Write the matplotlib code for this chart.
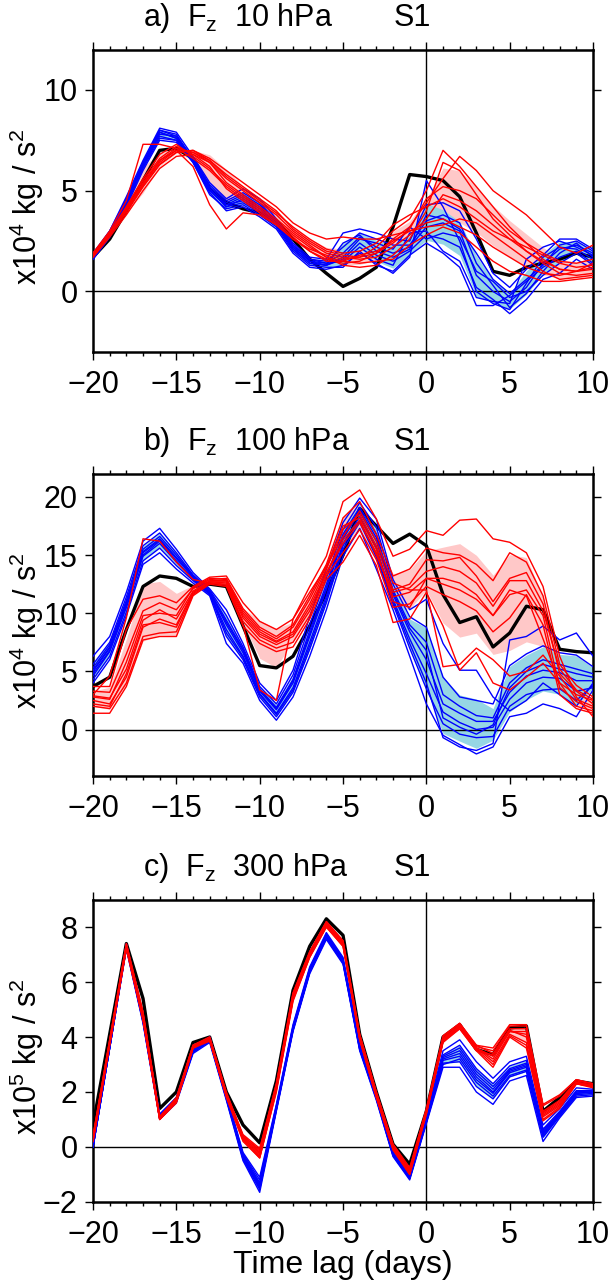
import numpy as np
import matplotlib
matplotlib.use("Agg")
import matplotlib.pyplot as plt
from matplotlib.ticker import MultipleLocator

plt.rcParams["font.family"] = ["Liberation Sans", "DejaVu Sans"]
plt.rcParams["mathtext.fontset"] = "custom"
plt.rcParams["mathtext.rm"] = "Liberation Sans"
plt.rcParams["mathtext.it"] = "Liberation Sans:italic"
plt.rcParams["mathtext.bf"] = "Liberation Sans:bold"

# time lag in days relative to the event onset
lags = np.arange(-20, 11)

# ---- 10 hPa (x10^4 kg/s^2) ----
fz10_obs = [1.7, 2.6, 4.0, 5.5, 7.0, 7.1, 6.6, 5.1, 4.4, 4.1, 3.9, 3.5, 2.6, 1.6, 0.9, 0.25,
            0.65, 1.2, 3.2, 5.8, 5.7, 5.5, 4.7, 2.9, 1.0, 0.8, 1.2, 1.4, 1.6, 1.9, 1.7]
fz10_red = [
    [1.9, 3.0, 4.5, 7.3, 7.3, 7.1, 6.6, 6.0, 5.2, 4.6, 4.0, 3.4, 2.7, 2.0, 1.6, 1.4, 1.5, 1.9, 2.6, 3.2, 4.4, 5.6, 6.7, 6.0, 5.0, 4.4, 3.8, 3.0, 2.2, 1.9, 2.3],
    [1.8, 2.9, 4.1, 5.3, 6.5, 7.0, 6.2, 4.3, 3.1, 3.9, 3.8, 3.3, 2.6, 2.1, 1.8, 1.6, 1.7, 2.2, 3.0, 3.6, 5.0, 7.0, 6.2, 5.2, 4.2, 3.2, 2.4, 1.6, 1.1, 1.0, 1.2],
    [1.7, 2.7, 3.8, 5.0, 6.1, 6.7, 6.8, 6.4, 5.6, 5.0, 4.4, 3.8, 3.0, 2.4, 1.9, 1.7, 1.6, 1.7, 2.2, 2.8, 3.6, 4.8, 4.5, 4.0, 3.3, 2.6, 2.0, 1.4, 0.9, 0.8, 0.9],
    [1.8, 2.8, 3.9, 5.2, 6.3, 6.9, 7.0, 6.6, 6.0, 5.4, 4.8, 4.2, 3.4, 2.9, 2.6, 2.7, 2.6, 2.6, 2.8, 3.0, 3.2, 3.3, 3.6, 3.4, 2.8, 2.2, 1.6, 1.0, 0.6, 0.7, 0.8],
    [1.8, 2.8, 4.0, 5.3, 6.4, 7.0, 6.9, 6.4, 5.4, 4.8, 4.2, 3.6, 2.9, 2.3, 1.7, 1.3, 1.2, 1.3, 1.8, 2.6, 4.0, 6.4, 6.0, 4.8, 3.6, 2.8, 2.0, 1.5, 1.1, 1.0, 1.1],
    [1.9, 2.9, 4.2, 5.5, 6.6, 7.2, 6.8, 6.2, 5.1, 4.5, 3.9, 3.3, 2.6, 2.0, 1.5, 1.5, 1.8, 2.0, 2.5, 3.0, 3.4, 3.6, 3.2, 2.8, 2.2, 1.7, 1.2, 0.9, 0.8, 1.0, 1.4],
    [1.7, 2.8, 4.1, 5.4, 6.5, 7.1, 6.9, 6.5, 5.7, 5.1, 4.5, 3.9, 3.2, 2.6, 2.1, 1.9, 2.0, 2.4, 3.3, 3.8, 4.2, 4.6, 4.2, 3.6, 3.0, 2.6, 2.2, 1.8, 1.4, 1.2, 1.3],
    [1.8, 2.9, 4.2, 5.6, 6.8, 7.3, 6.7, 6.1, 5.3, 4.7, 4.1, 3.5, 2.8, 2.2, 1.7, 1.5, 1.4, 1.5, 1.6, 2.3, 2.8, 3.2, 2.9, 2.2, 1.5, 1.0, 0.8, 0.5, 0.5, 0.6, 0.7],
    [1.8, 2.9, 4.0, 5.2, 6.3, 6.9, 7.0, 6.5, 5.8, 5.2, 4.6, 4.0, 3.1, 2.5, 2.0, 1.8, 1.7, 1.9, 2.4, 3.1, 4.6, 5.2, 5.0, 4.6, 3.8, 3.0, 2.4, 1.9, 1.5, 1.4, 1.6],
]
fz10_blue = [
    [1.6, 2.7, 4.2, 6.0, 7.5, 7.4, 6.4, 4.8, 4.1, 4.3, 3.8, 3.2, 2.0, 1.3, 1.2, 1.2, 2.0, 1.3, 1.0, 1.8, 2.4, 1.9, 1.2, -0.7, -0.7, -0.2, 0.5, 1.2, 1.7, 2.0, 1.4],
    [1.7, 2.8, 4.4, 6.2, 7.7, 7.5, 6.5, 5.0, 4.3, 4.5, 4.0, 3.3, 2.1, 1.4, 1.3, 1.6, 2.4, 1.8, 1.5, 2.0, 2.8, 2.6, 2.2, 0.2, -0.4, -1.1, -0.4, 0.6, 0.9, 1.6, 1.1],
    [1.8, 2.9, 4.5, 6.3, 7.9, 7.6, 6.5, 5.1, 4.2, 4.6, 4.1, 3.4, 2.2, 1.5, 1.4, 1.9, 2.7, 2.2, 1.9, 2.2, 3.2, 3.4, 3.0, 0.8, 0.0, -0.5, 0.2, 1.4, 2.1, 2.3, 1.9],
    [1.8, 3.0, 4.6, 6.4, 8.0, 7.7, 6.6, 5.2, 4.4, 4.8, 4.3, 3.5, 2.3, 1.6, 1.5, 2.2, 2.9, 2.6, 2.3, 2.3, 3.5, 3.8, 3.4, 1.4, 0.3, -0.8, -0.1, 1.0, 1.9, 2.4, 1.7],
    [1.9, 3.0, 4.7, 6.5, 8.1, 7.9, 6.7, 5.4, 4.6, 5.1, 4.6, 3.6, 2.4, 1.7, 1.6, 2.9, 3.1, 2.9, 2.6, 2.5, 4.3, 4.4, 4.0, 2.6, 0.9, 0.2, 1.1, 1.8, 2.6, 2.6, 2.1],
    [1.7, 2.8, 4.3, 6.1, 7.6, 7.5, 6.4, 4.9, 4.0, 4.2, 3.7, 3.1, 1.9, 1.2, 1.1, 1.3, 1.9, 1.4, 0.9, 1.7, 5.5, 4.2, 2.5, 0.0, -0.6, -0.9, 0.4, 1.7, 2.2, 2.1, 1.6],
    [1.6, 2.7, 4.3, 6.2, 7.8, 7.7, 6.6, 5.3, 4.5, 4.9, 4.4, 3.5, 2.3, 1.6, 1.4, 1.5, 2.2, 1.6, 1.3, 2.9, 3.0, 2.0, 1.5, -0.3, -0.5, -0.6, 1.6, 2.2, 2.5, 2.2, 1.8],
    [1.8, 2.9, 4.5, 6.4, 8.0, 7.8, 6.5, 5.0, 4.2, 4.4, 3.9, 3.3, 2.1, 1.4, 1.3, 1.7, 2.6, 2.4, 2.1, 3.2, 2.6, 2.9, 2.7, 1.0, 0.5, -0.3, 0.0, 0.8, 1.4, 1.9, 1.3],
    [1.7, 2.9, 4.4, 6.3, 7.9, 7.6, 6.6, 5.1, 4.3, 4.7, 4.2, 3.4, 2.2, 1.5, 1.3, 2.4, 2.8, 2.0, 1.7, 2.1, 3.8, 3.6, 3.1, 1.9, 0.6, -0.1, 0.6, 1.3, 2.3, 2.5, 2.0],
]

# ---- 100 hPa (x10^4 kg/s^2) ----
fz100_obs = [3.7, 4.5, 8.6, 12.3, 13.2, 13.0, 12.3, 12.5, 12.3, 8.9, 5.5, 5.3, 6.3, 8.9, 11.8, 15.0,
             19.0, 17.5, 16.0, 16.8, 15.8, 11.6, 9.2, 9.7, 7.1, 8.3, 10.6, 10.3, 6.9, 6.7, 6.6]
fz100_red = [
    [3.0, 4.6, 9.6, 16.4, 16.2, 14.4, 12.9, 12.6, 12.4, 9.0, 3.4, 2.5, 9.5, 11.8, 14.0, 17.5, 18.2, 15.5, 11.0, 10.5, 13.0, 12.5, 12.0, 11.2, 9.8, 12.0, 11.5, 7.8, 4.0, 3.0, 2.5],
    [3.7, 3.7, 8.6, 11.2, 11.5, 10.9, 12.3, 13.1, 13.2, 10.9, 9.3, 8.6, 9.5, 12.3, 14.9, 19.6, 20.6, 18.1, 14.9, 15.5, 17.1, 16.7, 18.0, 18.1, 16.4, 16.1, 15.2, 12.3, 6.3, 2.8, 1.1],
    [3.3, 3.2, 6.5, 10.2, 10.9, 10.3, 12.1, 12.9, 13.0, 10.4, 8.8, 8.0, 9.0, 11.5, 14.2, 18.2, 19.6, 16.8, 13.2, 13.8, 15.6, 15.2, 15.0, 14.2, 12.8, 15.2, 14.4, 11.5, 5.6, 3.8, 2.8],
    [2.9, 2.7, 5.2, 9.4, 10.3, 9.5, 11.9, 12.8, 12.8, 10.0, 8.4, 7.6, 8.4, 10.8, 13.8, 17.2, 18.5, 15.8, 12.0, 12.5, 14.6, 14.5, 14.8, 13.2, 11.0, 13.0, 13.5, 10.8, 4.8, 3.3, 2.2],
    [2.5, 2.2, 4.5, 8.8, 9.5, 9.0, 11.8, 12.7, 12.6, 9.6, 8.0, 7.3, 8.0, 10.2, 13.4, 16.0, 17.8, 15.2, 11.4, 11.8, 13.0, 13.0, 12.6, 11.6, 9.8, 11.6, 12.0, 9.8, 3.6, 2.4, 1.8],
    [2.0, 1.8, 4.0, 8.0, 8.3, 8.4, 11.6, 12.6, 12.5, 9.3, 7.7, 7.0, 7.5, 9.8, 13.2, 15.2, 17.2, 14.6, 10.5, 10.8, 12.3, 11.6, 11.0, 10.2, 8.4, 9.6, 11.6, 9.0, 3.0, 1.8, 1.4],
    [1.4, 1.4, 3.7, 7.7, 8.0, 8.0, 11.5, 12.5, 12.3, 8.9, 7.4, 6.7, 7.1, 9.5, 12.9, 14.4, 16.7, 14.1, 9.2, 9.5, 11.8, 8.9, 5.1, 6.6, 4.0, 3.4, 4.5, 5.7, 4.0, 2.0, 1.6],
    [2.8, 2.6, 5.8, 9.8, 10.0, 9.8, 12.2, 13.0, 12.9, 10.2, 8.6, 7.8, 8.8, 11.2, 14.0, 16.6, 18.8, 16.2, 12.6, 12.0, 12.0, 5.4, 5.6, 7.0, 6.0, 4.6, 5.0, 6.4, 4.6, 2.6, 2.0],
    [2.2, 2.0, 4.8, 9.0, 9.2, 8.8, 11.7, 12.7, 12.7, 9.8, 8.2, 7.5, 8.2, 10.5, 13.5, 16.3, 18.0, 15.0, 11.8, 12.2, 13.6, 14.0, 13.6, 12.6, 10.6, 12.8, 12.8, 10.2, 5.2, 3.4, 2.6],
]
fz100_blue = [
    [4.0, 6.0, 9.8, 14.2, 15.2, 13.8, 12.6, 11.5, 7.4, 5.7, 2.5, 0.8, 2.8, 6.3, 10.3, 14.9, 17.3, 13.8, 10.3, 6.3, 2.2, -0.5, -1.3, -2.1, -1.5, 1.1, 1.4, 2.2, 1.8, 1.1, 3.4],
    [4.3, 6.3, 10.1, 14.5, 15.6, 14.1, 12.8, 11.6, 8.0, 6.0, 2.8, 1.1, 3.2, 6.9, 10.9, 15.5, 17.8, 14.8, 10.8, 7.0, 3.5, 0.5, -0.4, -0.7, -0.6, 2.0, 3.0, 3.4, 3.5, 2.5, 3.8],
    [4.6, 6.7, 10.5, 14.9, 16.0, 14.4, 13.0, 11.7, 8.6, 6.3, 3.1, 1.4, 3.6, 7.5, 11.5, 16.0, 18.3, 15.6, 11.2, 7.8, 4.8, 1.5, 0.6, 0.0, 0.2, 2.6, 4.0, 4.5, 4.4, 3.3, 3.6],
    [5.0, 7.0, 10.8, 15.2, 16.3, 14.7, 13.1, 11.8, 9.0, 6.6, 3.3, 1.7, 4.0, 8.0, 12.0, 16.4, 18.7, 16.2, 11.6, 8.4, 6.0, 2.2, 1.4, 0.7, 0.7, 3.2, 4.6, 5.1, 4.9, 4.2, 4.2],
    [5.3, 7.3, 11.1, 15.5, 16.6, 15.0, 13.2, 11.9, 9.4, 6.9, 3.5, 1.9, 4.3, 8.5, 12.5, 16.8, 19.1, 16.8, 12.0, 9.0, 7.5, 3.0, 2.0, 1.2, 1.0, 4.0, 5.3, 6.0, 5.6, 5.2, 4.8],
    [5.6, 7.5, 11.4, 15.8, 16.9, 15.2, 13.3, 12.0, 9.8, 7.1, 3.7, 2.2, 4.7, 9.0, 13.0, 17.2, 19.5, 17.4, 12.5, 9.7, 8.8, 4.5, 2.8, 2.5, 2.2, 5.5, 6.5, 7.2, 6.6, 6.4, 5.4],
    [6.3, 8.0, 11.8, 16.2, 17.3, 15.5, 13.5, 12.1, 10.3, 7.4, 4.0, 2.5, 5.1, 9.7, 13.8, 17.8, 19.9, 18.1, 12.9, 10.3, 11.2, 7.4, 5.1, 5.1, 2.8, 1.6, 2.5, 4.0, 3.0, 2.0, 4.0],
    [4.8, 6.8, 10.6, 15.0, 16.2, 14.5, 12.9, 11.7, 8.3, 6.2, 3.0, 1.3, 3.4, 7.2, 11.2, 15.8, 18.0, 15.0, 11.0, 7.4, 4.0, -0.7, -1.5, -1.8, -1.2, 7.7, 8.0, 8.9, 7.7, 8.3, 6.3],
    [5.1, 7.1, 10.9, 15.3, 16.4, 14.8, 13.2, 11.8, 9.2, 6.8, 3.4, 1.8, 4.2, 8.2, 12.2, 16.6, 18.9, 16.5, 11.8, 8.7, 6.8, 1.0, 0.2, -0.4, 0.4, 3.6, 5.0, 5.6, 5.2, 4.8, 4.5],
]

# ---- 300 hPa (x10^5 kg/s^2) ----
fz300_obs = [0.8, 4.1, 7.4, 5.4, 1.4, 2.0, 3.8, 4.0, 2.0, 0.8, 0.15, 2.4, 5.7, 7.3, 8.3, 7.7,
             4.1, 2.0, 0.1, -0.63, 1.3, 4.0, 4.45, 3.55, 3.36, 4.33, 4.4, 1.3, 1.8, 2.4, 2.3]
fz300_red = [
    [0.2, 3.7, 7.2, 4.6, 1.0, 1.6, 3.6, 3.9, 1.8, 0.2, -0.4, 2.0, 5.3, 6.9, 8.0, 7.3, 3.9, 1.8, -0.1, -1.0, 1.2, 3.8, 4.3, 3.5, 2.9, 4.0, 3.6, 0.95, 1.4, 2.3, 2.15],
    [0.3, 3.8, 7.3, 4.7, 1.0, 1.7, 3.6, 3.9, 1.9, 0.3, -0.3, 2.1, 5.4, 7.0, 8.1, 7.4, 4.0, 1.9, 0.0, -0.9, 1.3, 3.9, 4.4, 3.6, 3.1, 4.1, 3.8, 1.1, 1.5, 2.3, 2.2],
    [0.3, 3.8, 7.3, 4.8, 1.05, 1.7, 3.65, 3.95, 1.9, 0.35, -0.2, 2.2, 5.5, 7.0, 8.1, 7.4, 4.0, 1.9, 0.0, -0.9, 1.3, 3.9, 4.4, 3.6, 3.3, 4.2, 4.1, 1.2, 1.6, 2.35, 2.25],
    [0.4, 3.9, 7.4, 4.9, 1.1, 1.8, 3.7, 4.0, 2.0, 0.4, -0.1, 2.3, 5.6, 7.1, 8.2, 7.5, 4.1, 2.0, 0.1, -0.8, 1.4, 4.0, 4.5, 3.7, 3.4, 4.3, 4.3, 1.3, 1.7, 2.4, 2.3],
    [0.35, 3.85, 7.35, 4.85, 1.1, 1.75, 3.7, 3.95, 1.95, 0.4, -0.15, 2.25, 5.55, 7.05, 8.15, 7.45, 4.05, 1.95, 0.05, -0.85, 1.35, 3.95, 4.45, 3.65, 3.5, 4.4, 4.4, 1.5, 1.85, 2.45, 2.3],
    [0.25, 3.75, 7.25, 4.7, 1.0, 1.65, 3.6, 3.9, 1.85, 0.3, -0.35, 2.1, 5.4, 6.95, 8.05, 7.35, 3.95, 1.85, -0.05, -0.95, 1.25, 3.85, 4.35, 3.55, 3.0, 4.05, 3.7, 1.0, 1.45, 2.3, 2.2],
    [0.3, 3.8, 7.3, 4.75, 1.05, 1.7, 3.65, 3.9, 1.9, 0.35, -0.25, 2.15, 5.45, 7.0, 8.1, 7.4, 4.0, 1.9, 0.0, -0.9, 1.3, 3.9, 4.4, 3.6, 3.2, 4.2, 4.2, 1.25, 1.65, 2.35, 2.25],
    [0.4, 3.9, 7.4, 4.9, 1.1, 1.75, 3.7, 4.0, 1.95, 0.45, -0.05, 2.3, 5.6, 7.1, 8.2, 7.5, 4.1, 2.0, 0.1, -0.75, 1.35, 4.05, 4.5, 3.7, 3.6, 4.45, 4.45, 1.55, 1.9, 2.45, 2.3],
    [0.2, 3.75, 7.25, 4.65, 1.0, 1.65, 3.6, 3.85, 1.85, 0.25, -0.4, 2.05, 5.35, 6.9, 8.0, 7.3, 3.9, 1.8, -0.1, -1.0, 1.2, 3.85, 4.3, 3.5, 3.35, 4.25, 4.0, 1.15, 1.55, 2.3, 2.2],
]
fz300_blue = [
    [0.0, 3.6, 7.2, 4.5, 1.0, 1.6, 3.4, 3.8, 1.7, -0.5, -1.65, 1.3, 4.2, 6.3, 7.55, 6.65, 3.5, 1.7, -0.35, -1.2, 0.85, 2.9, 2.9, 2.0, 1.55, 2.4, 2.6, 0.2, 1.06, 1.8, 1.85],
    [0.0, 3.6, 7.25, 4.55, 1.05, 1.65, 3.45, 3.85, 1.75, -0.4, -1.5, 1.35, 4.25, 6.35, 7.6, 6.7, 3.55, 1.75, -0.3, -1.15, 0.9, 3.05, 3.1, 2.2, 1.75, 2.55, 2.75, 0.35, 1.12, 1.85, 1.9],
    [0.0, 3.6, 7.3, 4.6, 1.1, 1.7, 3.5, 3.9, 1.8, -0.35, -1.4, 1.4, 4.3, 6.4, 7.65, 6.75, 3.6, 1.8, -0.27, -1.1, 0.95, 3.15, 3.3, 2.45, 1.95, 2.7, 2.9, 0.45, 1.2, 1.95, 2.0],
    [0.05, 3.65, 7.35, 4.65, 1.15, 1.75, 3.55, 3.95, 1.85, -0.3, -1.3, 1.45, 4.35, 6.45, 7.7, 6.8, 3.65, 1.85, -0.22, -1.05, 1.0, 3.25, 3.5, 2.65, 2.1, 2.8, 3.0, 0.55, 1.25, 2.0, 2.0],
    [0.05, 3.65, 7.35, 4.7, 1.15, 1.8, 3.6, 4.0, 1.9, -0.25, -1.2, 1.5, 4.4, 6.5, 7.75, 6.85, 3.7, 1.9, -0.2, -1.0, 1.05, 3.35, 3.7, 2.85, 2.3, 2.95, 3.15, 0.65, 1.3, 2.05, 2.05],
    [0.0, 3.6, 7.3, 4.6, 1.1, 1.7, 3.5, 3.9, 1.8, -0.35, -1.45, 1.4, 4.3, 6.4, 7.65, 6.75, 3.6, 1.8, -0.27, -1.1, 0.95, 3.2, 3.4, 2.55, 2.0, 2.75, 2.95, 0.5, 1.2, 1.95, 2.0],
    [0.1, 3.7, 7.4, 4.7, 1.2, 1.8, 3.6, 4.0, 1.9, -0.2, -1.1, 1.55, 4.45, 6.55, 7.8, 6.9, 3.75, 1.95, -0.15, -0.95, 1.1, 3.5, 3.9, 3.1, 2.5, 3.1, 3.3, 0.8, 1.4, 2.15, 2.1],
    [0.0, 3.6, 7.25, 4.55, 1.05, 1.65, 3.45, 3.85, 1.75, -0.45, -1.55, 1.35, 4.25, 6.35, 7.6, 6.7, 3.55, 1.75, -0.32, -1.15, 0.9, 3.0, 3.2, 2.35, 1.85, 2.6, 2.8, 0.4, 1.15, 1.9, 1.95],
    [0.05, 3.65, 7.3, 4.65, 1.1, 1.75, 3.55, 3.95, 1.85, -0.3, -1.35, 1.45, 4.35, 6.45, 7.7, 6.8, 3.65, 1.85, -0.25, -1.05, 1.0, 3.3, 3.6, 2.75, 2.2, 2.85, 3.05, 0.6, 1.25, 2.0, 2.05],
]

panels = [
    ("a)", "10 hPa", 4, fz10_obs, fz10_red, fz10_blue, (-3, 12), [0, 5, 10]),
    ("b)", "100 hPa", 4, fz100_obs, fz100_red, fz100_blue, (-4, 22), [0, 5, 10, 15, 20]),
    ("c)", "300 hPa", 5, fz300_obs, fz300_red, fz300_blue, (-2, 9), [-2, 0, 2, 4, 6, 8]),
]

RED, BLUE = "#ff0000", "#0000ff"
PINK, CYAN = "#ffc8c8", "#96d6e4"
FS = 22

fig = plt.figure(figsize=(6.12, 12.84), dpi=100)
bottoms = [0.7259, 0.3956, 0.0639]

for (tag, level, exp, obs, red, blue, ylim, yticks), b in zip(panels, bottoms):
    ax = fig.add_axes([0.152, b, 0.817, 0.2355])
    red = np.array(red)
    blue = np.array(blue)

    # ensemble spread: mean +/- one standard deviation
    for ens, fc in ((red, PINK), (blue, CYAN)):
        m, s = ens.mean(axis=0), ens.std(axis=0)
        ax.fill_between(lags, m - s, m + s, color=fc, lw=0, zorder=1)

    ax.axhline(0, color="k", lw=1.0, zorder=2)
    ax.axvline(0, color="k", lw=1.0, zorder=2)

    ax.plot(lags, obs, color="k", lw=2.4, zorder=3)
    for row in blue:
        ax.plot(lags, row, color=BLUE, lw=1.0, zorder=4)
    for row in red:
        ax.plot(lags, row, color=RED, lw=1.0, zorder=5)

    ax.set_xlim(-20, 10)
    ax.set_ylim(*ylim)
    ax.set_yticks(yticks)
    ax.xaxis.set_major_locator(MultipleLocator(5))
    ax.xaxis.set_minor_locator(MultipleLocator(1))
    ax.tick_params(which="both", direction="out", top=True, right=True,
                   labelsize=FS, width=1.0)
    ax.tick_params(which="major", length=6, pad=5)
    ax.tick_params(axis="x", which="major", pad=7)
    ax.tick_params(which="minor", length=3)
    for sp in ax.spines.values():
        sp.set_linewidth(1.8)

    ax.set_ylabel(rf"x10$^{exp}$ kg / s$^2$", fontsize=FS)
    ax.yaxis.set_label_coords(-0.095, 0.48)

    ax.text(0.10, 1.105, rf"{tag}  F$_\mathrm{{z}}$  {level}", transform=ax.transAxes,
            fontsize=FS, ha="left", va="center")
    ax.text(0.638, 1.105, "S1", transform=ax.transAxes,
            fontsize=FS, ha="center", va="center")

ax.set_xlabel("Time lag (days)", fontsize=23, labelpad=0)

fig.savefig("out.png", dpi=100)
